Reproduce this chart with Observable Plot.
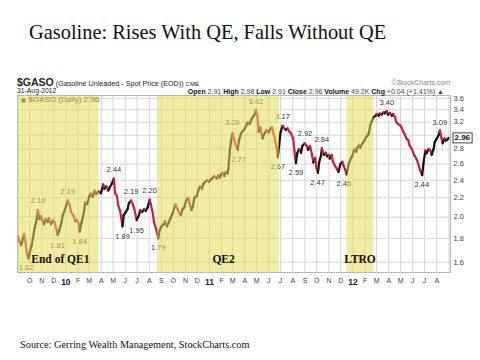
<!DOCTYPE html>
<html><head><meta charset="utf-8">
<script src="https://cdn.jsdelivr.net/npm/d3@7"></script>
<script src="https://cdn.jsdelivr.net/npm/@observablehq/plot@0.6"></script>
<style>
body{margin:0;background:#fff;width:480px;height:360px;overflow:hidden;position:relative;font-family:"Liberation Sans",Arial,sans-serif;color:#222;}
#title{position:absolute;left:29px;top:21px;font-size:20.4px;font-family:"Liberation Serif",serif;color:#111;white-space:nowrap;}
#chart{position:absolute;left:0;top:60px;}
.hdr{position:absolute;white-space:nowrap;line-height:1;}
#caption{position:absolute;left:20px;top:339px;font-size:10.3px;font-family:"Liberation Serif",serif;color:#111;white-space:nowrap;}
</style></head>
<body>
<div id="title">Gasoline: Rises With QE, Falls Without QE</div>
<div id="chart"></div>
<div class="hdr" style="left:17px;top:77px;font-size:7.2px;"><b style="font-size:10.5px">$GASO</b> (Gasoline Unleaded - Spot Price (EOD)) <span style="font-size:6px">CME</span></div>
<div class="hdr" style="left:17px;top:88px;font-size:6.8px;">31-Aug-2012</div>
<div class="hdr" style="right:30px;top:79px;font-size:7px;color:#888;">©StockCharts.com</div>
<div class="hdr" style="right:36px;top:88px;font-size:7px;color:#444;"><b style="color:#111">Open</b> 2.91 <b style="color:#111">High</b> 2.98 <b style="color:#111">Low</b> 2.91 <b style="color:#111">Close</b> 2.96 <b style="color:#111">Volume</b> 49.2K <b style="color:#111">Chg</b> +0.04 (+1.41%) ▲</div>
<div id="caption">Source: Gerring Wealth Management, StockCharts.com</div>
<script>
const dates = ["2009-09-01","2009-09-04","2009-09-09","2009-09-14","2009-09-17","2009-09-21","2009-09-24","2009-09-28","2009-10-01","2009-10-06","2009-10-09","2009-10-14","2009-10-19","2009-10-22","2009-10-26","2009-10-29","2009-11-03","2009-11-06","2009-11-11","2009-11-16","2009-11-19","2009-11-24","2009-11-30","2009-12-03","2009-12-08","2009-12-11","2009-12-16","2009-12-21","2009-12-24","2009-12-30",
"2010-01-06","2010-01-11","2010-01-14","2010-01-20","2010-01-25","2010-01-29","2010-02-03","2010-02-05","2010-02-10","2010-02-16","2010-02-19","2010-02-24","2010-03-02","2010-03-05","2010-03-10","2010-03-15","2010-03-19","2010-03-24","2010-03-31","2010-04-06","2010-04-09","2010-04-14","2010-04-19","2010-04-23","2010-04-28","2010-05-03","2010-05-06","2010-05-11","2010-05-14","2010-05-19","2010-05-25","2010-05-28","2010-06-02","2010-06-07","2010-06-10","2010-06-16","2010-06-21","2010-06-24","2010-06-30","2010-07-06","2010-07-09","2010-07-14","2010-07-19","2010-07-23","2010-07-28","2010-08-02","2010-08-05","2010-08-10","2010-08-13","2010-08-18","2010-08-24","2010-08-27","2010-09-01","2010-09-07","2010-09-10","2010-09-15","2010-09-20","2010-09-24","2010-09-29","2010-10-04","2010-10-07","2010-10-12","2010-10-15","2010-10-20","2010-10-25","2010-10-29","2010-11-03","2010-11-08","2010-11-11","2010-11-16","2010-11-19","2010-11-24","2010-11-30","2010-12-03","2010-12-08","2010-12-13","2010-12-16","2010-12-21","2010-12-27","2010-12-31",
"2011-01-05","2011-01-10","2011-01-13","2011-01-19","2011-01-24","2011-01-27","2011-01-31","2011-02-03","2011-02-08","2011-02-11","2011-02-16","2011-02-18","2011-02-22","2011-02-25","2011-03-01","2011-03-04","2011-03-09","2011-03-14","2011-03-17","2011-03-22","2011-03-25","2011-03-30","2011-04-05","2011-04-08","2011-04-13","2011-04-18","2011-04-21","2011-04-26","2011-04-29","2011-05-03","2011-05-06","2011-05-11","2011-05-16","2011-05-19","2011-05-24","2011-05-27","2011-06-01","2011-06-06","2011-06-09","2011-06-14","2011-06-17","2011-06-21","2011-06-24","2011-06-29","2011-07-01","2011-07-06","2011-07-11","2011-07-14","2011-07-19","2011-07-22","2011-07-27","2011-08-02","2011-08-05","2011-08-09","2011-08-12","2011-08-17","2011-08-22","2011-08-25","2011-08-31","2011-09-06","2011-09-09","2011-09-14","2011-09-19","2011-09-22","2011-09-27","2011-09-30","2011-10-04","2011-10-07","2011-10-12","2011-10-14","2011-10-19","2011-10-24","2011-10-27","2011-10-31","2011-11-03","2011-11-08","2011-11-11","2011-11-16","2011-11-21","2011-11-25","2011-11-30","2011-12-05","2011-12-08","2011-12-13","2011-12-16","2011-12-21","2011-12-27","2011-12-30",
"2012-01-04","2012-01-09","2012-01-12","2012-01-17","2012-01-20","2012-01-25","2012-01-30","2012-02-03","2012-02-08","2012-02-10","2012-02-14","2012-02-17","2012-02-22","2012-02-27","2012-03-01","2012-03-06","2012-03-09","2012-03-14","2012-03-19","2012-03-22","2012-03-27","2012-03-30","2012-04-04","2012-04-09","2012-04-12","2012-04-17","2012-04-20","2012-04-25","2012-04-30","2012-05-03","2012-05-08","2012-05-11","2012-05-16","2012-05-21","2012-05-24","2012-05-30","2012-06-04","2012-06-07","2012-06-12","2012-06-15","2012-06-20","2012-06-25","2012-06-28","2012-07-03","2012-07-06","2012-07-11","2012-07-16","2012-07-19","2012-07-24","2012-07-27","2012-08-01","2012-08-06","2012-08-09","2012-08-13","2012-08-16","2012-08-21","2012-08-24","2012-08-29","2012-08-31"];
const prices = [1.82,1.78,1.74,1.80,1.84,1.75,1.66,1.63,1.68,1.74,1.80,1.90,1.98,2.07,1.98,2.01,1.96,1.93,1.98,1.95,1.99,1.93,1.97,1.95,1.88,1.83,1.88,1.95,2.02,2.08,
2.17,2.12,2.05,2.02,1.96,1.97,1.93,1.86,1.95,2.05,2.15,2.13,2.22,2.25,2.21,2.28,2.24,2.27,2.25,2.35,2.30,2.33,2.28,2.32,2.36,2.42,2.25,2.22,2.12,2.06,1.91,2.02,2.05,2.08,2.14,2.17,2.12,2.08,1.97,2.02,2.07,2.05,2.08,2.06,2.10,2.18,2.13,2.04,1.95,1.89,1.80,1.87,1.91,1.93,1.96,1.91,1.95,1.99,2.03,2.10,2.13,2.08,2.05,2.02,2.08,2.10,2.17,2.20,2.15,2.07,2.10,2.20,2.22,2.27,2.33,2.30,2.35,2.38,2.40,2.38,
2.41,2.43,2.45,2.42,2.46,2.43,2.47,2.49,2.45,2.50,2.48,2.53,2.78,2.92,3.03,2.95,2.85,2.79,2.92,3.02,3.05,3.08,3.15,3.20,3.17,3.24,3.28,3.32,3.39,3.30,3.05,3.12,2.95,3.00,3.05,3.08,3.04,3.10,3.12,3.00,2.92,2.82,2.69,2.95,3.05,3.14,3.10,3.08,3.10,3.06,3.03,2.95,2.78,2.61,2.74,2.80,2.75,2.84,2.88,2.84,2.79,2.84,2.72,2.62,2.68,2.55,2.49,2.62,2.72,2.81,2.72,2.75,2.70,2.72,2.67,2.72,2.63,2.58,2.54,2.50,2.60,2.63,2.58,2.52,2.47,2.60,2.68,2.70,
2.80,2.76,2.82,2.86,2.82,2.88,2.92,2.97,3.00,3.02,3.15,3.20,3.28,3.30,3.33,3.30,3.34,3.32,3.36,3.34,3.38,3.32,3.35,3.30,3.33,3.28,3.20,3.17,3.15,3.12,3.05,3.02,2.95,2.92,2.85,2.80,2.72,2.70,2.65,2.60,2.52,2.46,2.60,2.78,2.74,2.80,2.78,2.72,2.80,2.90,2.95,3.00,3.07,2.96,2.88,2.95,2.92,2.94,2.96];

// Shaded periods
const periodNames = ["QE1","QE2","LTRO"];
const periodStarts = ["2009-08-31","2010-08-22","2011-12-17"];
const periodEnds = ["2010-03-26","2011-06-28","2012-02-23"];
const periodLabels = ["End of QE1","QE2","LTRO"];
const periodLabelDates = ["2009-12-18","2011-02-06","2012-01-19"];

// Annotated highs (above) and lows (below)
const highDates = ["2009-10-22","2010-01-06","2010-05-03","2010-06-16","2010-08-02","2011-02-28","2011-04-29","2011-07-06","2011-09-01","2011-10-14","2012-03-27","2012-08-09"];
const highValues = [2.10,2.19,2.44,2.19,2.20,3.09,3.42,3.17,2.92,2.84,3.40,3.09];
const lowDates = ["2009-09-22","2009-12-11","2010-02-05","2010-05-25","2010-06-30","2010-08-24","2011-03-16","2011-06-24","2011-08-09","2011-10-03","2011-12-09","2012-06-24"];
const lowValues = [1.62,1.81,1.84,1.89,1.95,1.79,2.77,2.67,2.59,2.47,2.45,2.44];

const yTicks = [1.6,1.8,2.0,2.2,2.4,2.6,2.8,3.0,3.2,3.4,3.6];
const yLabelTicks = [1.6,1.8,2.0,2.2,2.4,2.6,2.8,3.2,3.4,3.6];
const lastClose = 2.96;
const legendText = "$GASO (Daily) 2.96";
const monthLetters = ["J","F","M","A","M","J","J","A","S","O","N","D"];

const parse = d3.utcParse("%Y-%m-%d");
const data = dates.map((d,i)=>({date: parse(d), value: prices[i]}));
const segs = [];
for (let i=1;i<data.length;i++){
  const dir = data[i].value >= data[i-1].value ? "up" : "down";
  segs.push({...data[i-1], s:i, dir}, {...data[i], s:i, dir});
}
const periods = periodNames.map((n,i)=>({name:n, start:parse(periodStarts[i]), end:parse(periodEnds[i])}));
const pLabels = periodLabels.map((l,i)=>({label:l, date:parse(periodLabelDates[i])}));
const highs = highDates.map((d,i)=>({date:parse(d), value:highValues[i]}));
const lows = lowDates.map((d,i)=>({date:parse(d), value:lowValues[i]}));

const gridMonths = d3.utcMonth.range(parse("2009-09-01"), parse("2012-09-02"));
const labelMonths = d3.utcMonth.range(parse("2009-10-01"), parse("2012-08-02"));
const jans = labelMonths.filter(d=>d.getUTCMonth()===0);
const others = labelMonths.filter(d=>d.getUTCMonth()!==0);

const font = "Liberation Sans, Arial, sans-serif";
const chart = Plot.plot({
  width: 480, height: 240,
  marginTop: 35, marginBottom: 28, marginLeft: 17, marginRight: 30,
  style: {background: "transparent", fontFamily: font},
  x: {type: "utc", domain: [parse("2009-08-31"), parse("2012-09-05")]},
  y: {type: "log", domain: [1.52, 3.65]},
  color: {domain: ["up","down"], range: ["#111111","#c8203f"]},
  marks: [
    Plot.gridX(gridMonths, {stroke: "#d4d4d4", strokeOpacity: 1}),
    Plot.gridY(yTicks, {stroke: "#d4d4d4", strokeOpacity: 1}),
    Plot.line(segs, {x: "date", y: "value", z: "s", stroke: "dir", strokeWidth: 2.2, strokeLinejoin: "round"}),
    Plot.text(highs, {x: "date", y: "value", text: d=>d.value.toFixed(2), dy: -7, fontSize: 7.5, fill: "#333", stroke: "white", strokeWidth: 2.5}),
    Plot.text(lows, {x: "date", y: "value", text: d=>d.value.toFixed(2), dy: 8, fontSize: 7.5, fill: "#333", stroke: "white", strokeWidth: 2.5}),
    Plot.dot([0], {frameAnchor: "top-left", dx: 6, dy: 5, symbol: "square", r: 2.2, fill: "#444"}),
    Plot.text([legendText], {frameAnchor: "top-left", dx: 11, dy: 1, textAnchor: "start", lineAnchor: "top", fontSize: 8, fill: "#333"}),
    Plot.rect(periods, {x1: "start", x2: "end", fill: "#e3df55", fillOpacity: 0.55}),
    Plot.text(pLabels, {x: "date", text: "label", frameAnchor: "bottom", dy: -10, fontSize: 11.5, fontWeight: "bold", fontFamily: "Liberation Serif, serif", fill: "#111"}),
    Plot.frame({stroke: "#b8b8b8"}),
    Plot.axisY(yLabelTicks, {anchor: "right", tickSize: 0, tickPadding: 3, tickFormat: d3.format(".1f"), fontSize: 7.5, fill: "#444", label: null}),
    Plot.text([lastClose], {y: d=>d, frameAnchor: "right", dx: 4, textAnchor: "start", text: d=>d.toFixed(2), fontSize: 8, fontWeight: "bold", fill: "#111", className: "pricebox"}),
    Plot.axisX(others, {anchor: "bottom", tickSize: 0, tickPadding: 6, tickFormat: d=>monthLetters[d.getUTCMonth()], fontSize: 7, fill: "#444", label: null}),
    Plot.axisX(jans, {anchor: "bottom", tickSize: 0, tickPadding: 6, tickFormat: d=>d3.utcFormat("%y")(d), fontSize: 8.5, fontWeight: "bold", fill: "#222", label: null})
  ]
});
document.getElementById("chart").appendChild(chart);
// draw a box around the last price label
d3.select(chart).selectAll("g.pricebox text").each(function(){
  const b = this.getBBox();
  d3.select(this.parentNode).insert("rect", "text")
    .attr("x", b.x-1.5).attr("y", b.y-0.5).attr("width", b.width+3).attr("height", b.height+1)
    .attr("fill", "white").attr("stroke", "#444").attr("stroke-width", 1)
    .attr("transform", this.getAttribute("transform"));
});
</script>
</body></html>
